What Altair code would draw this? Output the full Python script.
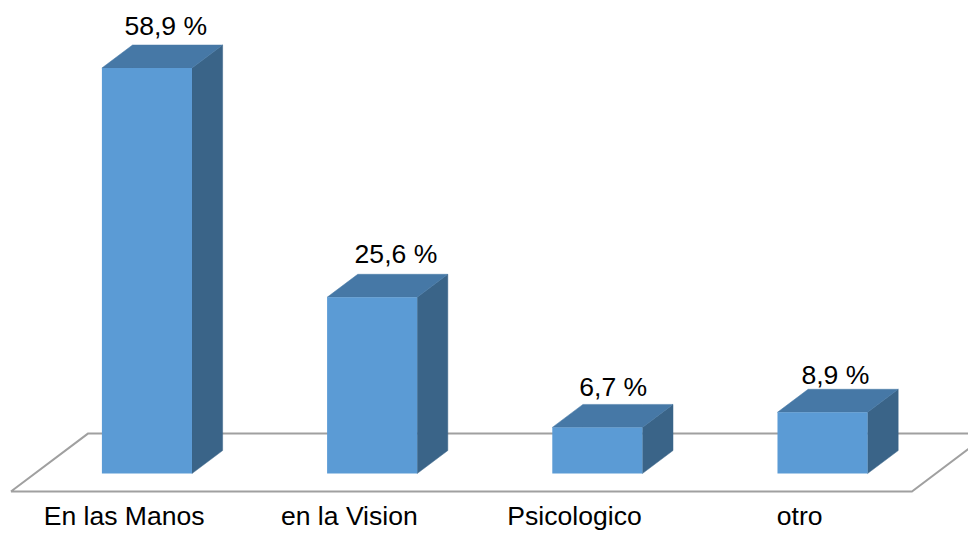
import altair as alt
import pandas as pd

categories = ["En las Manos", "en la Vision", "Psicologico", "otro"]
values = [58.9, 25.6, 6.7, 8.9]
value_labels = ["58,9 %", "25,6 %", "6,7 %", "8,9 %"]

W, H = 968, 525
X_DOM = [-0.617, 3.646]
Y_DOM = [-8.32, 67.3]
HALF, DX, DY = 0.2, 0.136, 3.34
FONT = "Liberation Sans"

x_s = alt.Scale(domain=X_DOM, nice=False, zero=False)
y_s = alt.Scale(domain=Y_DOM, nice=False, zero=False)
X = lambda f: alt.X(f, type="quantitative", scale=x_s, axis=None)
Y = lambda f: alt.Y(f, type="quantitative", scale=y_s, axis=None)

front, top, side = [], [], []
for i, v in enumerate(values):
    l, r = i - HALF, i + HALF
    front.append(dict(b=i, x=l, x2=r, y=0, y2=v))
    top += [
        dict(b=i, x=l, y=v, y2=v),
        dict(b=i, x=l + DX, y=v, y2=v + DY),
        dict(b=i, x=r, y=v, y2=v + DY),
        dict(b=i, x=r + DX, y=v + DY, y2=v + DY),
    ]
    side += [
        dict(b=i, x=r, y=0, y2=v),
        dict(b=i, x=r + DX, y=DY, y2=v + DY),
    ]

floor = pd.DataFrame([
    dict(o=0, x=-0.604, y=-2.61),
    dict(o=1, x=-0.262, y=5.8),
    dict(o=2, x=3.739, y=5.8),
    dict(o=3, x=3.397, y=-2.61),
    dict(o=4, x=-0.604, y=-2.61),
])

layers = [
    alt.Chart(floor).mark_line(color="#A0A0A0", strokeWidth=2, clip=True).encode(
        x=X("x"), y=Y("y"), order=alt.Order("o:Q")),
]
for i in range(len(values)):
    layers += [
        alt.Chart(pd.DataFrame([d for d in side if d["b"] == i])).mark_area(
            color="#3A6488", stroke="#3A6488", strokeWidth=0.5).encode(
            x=X("x"), y=Y("y"), y2="y2:Q"),
        alt.Chart(pd.DataFrame([d for d in top if d["b"] == i])).mark_area(
            color="#4678A6", stroke="#4678A6", strokeWidth=0.5).encode(
            x=X("x"), y=Y("y"), y2="y2:Q"),
    ]
layers.append(
    alt.Chart(pd.DataFrame(front)).mark_rect(color="#5B9BD5").encode(
        x=X("x"), x2="x2:Q", y=Y("y"), y2="y2:Q"))

for i, (lab, v, dx, dy) in enumerate(zip(value_labels, values, (19, 24, 16, 13), (-41, -43, -40, -37))):
    layers.append(
        alt.Chart(pd.DataFrame([dict(x=i, y=v, t=lab)])).mark_text(
            font=FONT, fontSize=26.8, color="black", align="center", baseline="middle", dx=dx, dy=dy
        ).encode(x=X("x"), y=Y("y"), text="t:N"))

cat_df = pd.DataFrame(dict(x=list(range(len(categories))), y=[0] * len(categories), t=categories))
layers.append(
    alt.Chart(cat_df).mark_text(
        font=FONT, fontSize=26.8, color="black", align="center", baseline="alphabetic", dx=-23, dy=52
    ).encode(x=X("x"), y=Y("y"), text="t:N"))

chart = alt.layer(*layers).properties(
    width=W, height=H, padding=0, background="white",
    autosize=alt.AutoSizeParams(type="none"),
).configure_view(strokeWidth=0)

chart.save("out.html", embed_options={"renderer": "svg", "actions": False})
